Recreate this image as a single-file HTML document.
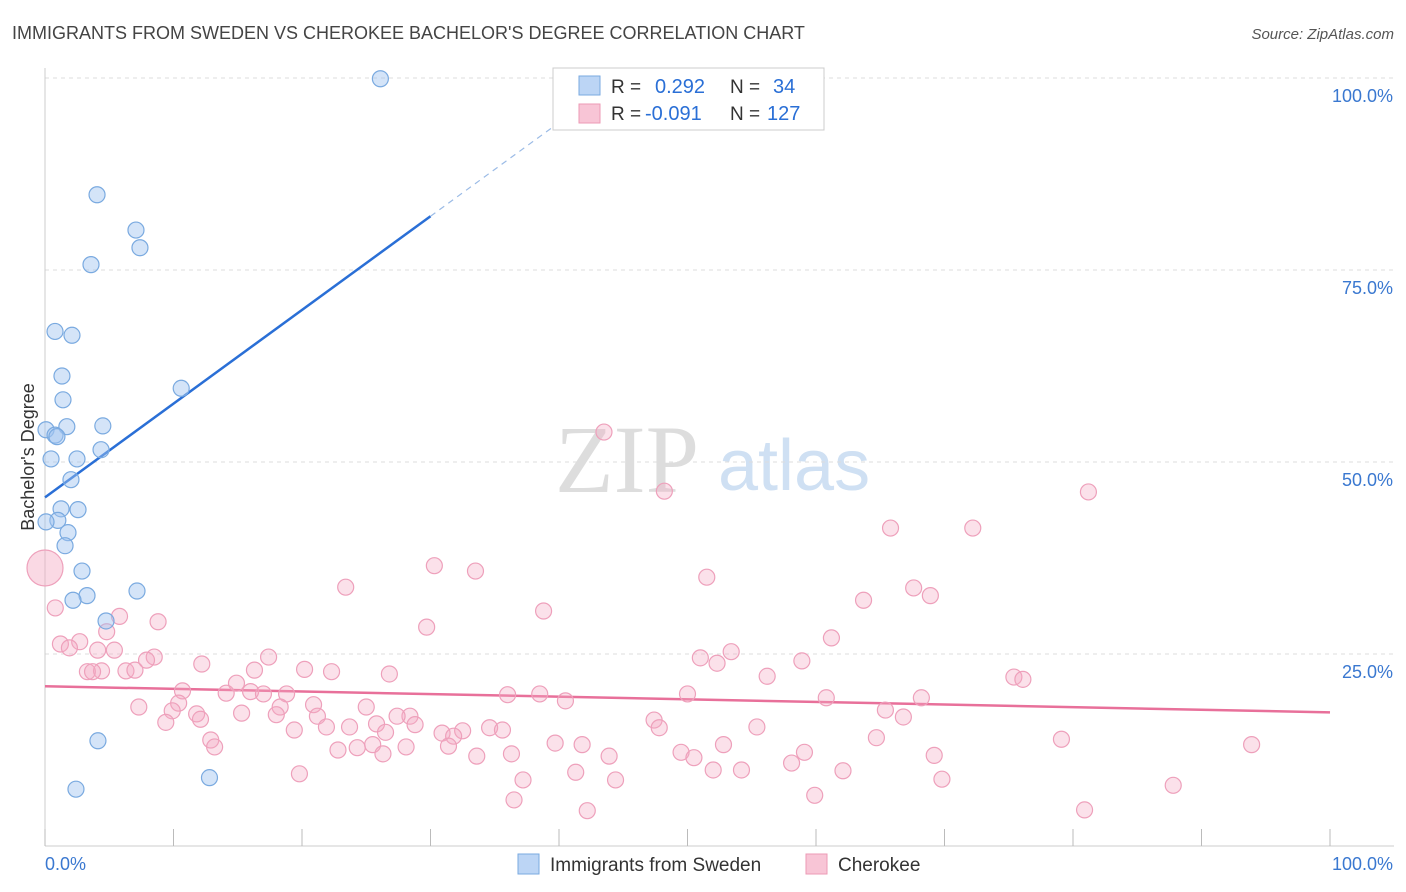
<!DOCTYPE html>
<html><head><meta charset="utf-8"><style>
body{margin:0;background:#fff;font-family:"Liberation Sans",sans-serif}
svg{display:block}
</style></head><body>
<svg id="chart" width="1406" height="892" xmlns="http://www.w3.org/2000/svg" font-family="Liberation Sans, sans-serif">
<text x="12" y="39" font-size="18" fill="#444">IMMIGRANTS FROM SWEDEN VS CHEROKEE BACHELOR'S DEGREE CORRELATION CHART</text>
<text x="1394" y="39" font-size="15" fill="#555" font-style="italic" text-anchor="end">Source: ZipAtlas.com</text>
<g>
<text x="555" y="492" font-size="96" fill="#ddd" font-family="Liberation Serif, serif">ZIP</text>
<text x="718" y="490" font-size="72" fill="#cfe0f3">atlas</text>
</g>
<g id="grid"></g>
<g id="axes"></g>
<text transform="translate(34,457) rotate(-90)" font-size="18" fill="#333" text-anchor="middle">Bachelor's Degree</text>
<g id="lines"></g>
<g id="pts"></g>
<g>
<rect x="553" y="68" width="271" height="62" fill="#fff" stroke="#ccc"/>
<rect x="579" y="76" width="21" height="19" fill="#bcd5f5" stroke="#7aaae0"/>
<rect x="579" y="104" width="21" height="19" fill="#f8c5d6" stroke="#ec9ab5"/>
<text x="611" y="93" font-size="19" fill="#333">R =</text>
<text x="655" y="93" font-size="20" fill="#2a6fd6">0.292</text>
<text x="730" y="93" font-size="19" fill="#333">N =</text>
<text x="773" y="93" font-size="20" fill="#2a6fd6">34</text>
<text x="611" y="120" font-size="19" fill="#333">R =</text>
<text x="645" y="120" font-size="20" fill="#2a6fd6">-0.091</text>
<text x="730" y="120" font-size="19" fill="#333">N =</text>
<text x="767" y="120" font-size="20" fill="#2a6fd6">127</text>
</g>
<g>
<rect x="518" y="854" width="21" height="20" fill="#bcd5f5" stroke="#7aaae0"/>
<text x="550" y="871" font-size="19" fill="#333">Immigrants from Sweden</text>
<rect x="806" y="854" width="21" height="20" fill="#f8c5d6" stroke="#ec9ab5"/>
<text x="838" y="871" font-size="19" fill="#333">Cherokee</text>
</g>
</svg>
<script>
const yTicks=[25,50,75,100];
const yTickLabels=["25.0%","50.0%","75.0%","100.0%"];
const xTickVals=[0,10,20,30,40,50,60,70,80,90,100];
const swedenX=[26.1,4.05,7.08,7.39,3.58,0.78,2.1,1.32,10.6,1.4,4.5,1.7,0.08,0.78,0.93,4.36,0.47,2.49,2.02,1.25,2.57,1.0,0.08,1.79,1.56,2.88,7.16,3.27,2.18,4.75,4.12,12.8,2.41];
const swedenY=[99.9,84.8,80.2,77.9,75.7,67.0,66.5,61.2,59.6,58.1,54.7,54.6,54.2,53.5,53.3,51.6,50.4,50.4,47.7,43.9,43.8,42.4,42.2,40.8,39.1,35.8,33.2,32.6,32.0,29.3,13.7,8.9,7.4];
const cheroX=[43.5,48.2,81.2,65.8,72.2,30.3,33.5,51.5,23.4,67.6,68.9,63.7,38.8,0.8,5.8,8.8,29.7,4.8,61.2,1.2,2.7,1.9,4.1,5.4,17.4,8.5,7.9,51.0,53.4,52.3,58.9,12.2,20.2,22.3,3.3,4.4,3.7,6.3,7.0,16.3,26.8,56.2,75.4,76.1,14.9,10.7,14.1,16.0,17.0,18.8,36.0,38.5,50.0,60.8,68.2,40.5,10.4,7.3,20.9,25.0,18.3,65.4,15.3,9.9,11.8,66.8,28.4,27.4,18.0,21.2,47.4,9.4,12.1,25.8,23.7,28.8,47.8,55.4,34.6,35.6,19.4,21.9,32.5,30.9,26.5,31.8,64.7,12.9,13.2,52.8,41.8,39.7,31.4,24.3,22.8,28.1,25.5,36.3,33.6,49.5,59.1,43.9,50.5,69.2,26.3,79.1,93.9,58.1,41.3,52.0,54.2,62.1,19.8,37.2,44.4,69.8,87.8,59.9,36.5,42.2,80.9];
const cheroY=[53.9,46.2,46.1,41.4,41.4,36.5,35.8,35.0,33.7,33.6,32.6,32.0,30.6,31.0,29.9,29.2,28.5,27.9,27.1,26.3,26.6,25.8,25.5,25.5,24.6,24.6,24.2,24.5,25.3,23.8,24.1,23.7,23.0,22.7,22.7,22.8,22.7,22.8,22.9,22.9,22.4,22.1,22.0,21.7,21.2,20.2,19.9,20.1,19.8,19.8,19.7,19.8,19.8,19.3,19.3,18.9,18.6,18.1,18.4,18.1,18.1,17.7,17.3,17.6,17.2,16.8,16.9,16.9,17.1,16.9,16.4,16.1,16.5,15.9,15.5,15.8,15.4,15.5,15.4,15.1,15.1,15.5,15.0,14.7,14.8,14.3,14.1,13.8,12.9,13.2,13.2,13.4,13.0,12.8,12.5,12.9,13.2,12.0,11.7,12.2,12.2,11.7,11.5,11.8,12.0,13.9,13.2,10.8,9.6,9.9,9.9,9.8,9.4,8.6,8.6,8.7,7.9,6.6,6.0,4.6,4.7];
const bigX=[0], bigY=[36.2];
const swedenFit=[45.4,1.22]; // intercept, slope (% per %)
const cheroFit=[20.8,17.4]; // y at x=0, y at x=100
const NS="http://www.w3.org/2000/svg";
const X=v=>45+v*12.85, Y=v=>846-v*7.68;
function mk(tag,attrs,parent){const e=document.createElementNS(NS,tag);for(const k in attrs)e.setAttribute(k,attrs[k]);parent.appendChild(e);return e;}
const grid=document.getElementById('grid'),axes=document.getElementById('axes'),lines=document.getElementById('lines'),pts=document.getElementById('pts');
yTicks.forEach((t,i)=>{
 const l=mk('line',{x1:45,x2:1394,y1:Y(t),y2:Y(t),stroke:'#ddd','stroke-dasharray':'4,4'},grid);
 
 
 const tx=mk('text',{x:1393,y:Y(t)+24,'font-size':18,fill:'#3a78d0','text-anchor':'end'},axes);
 tx.textContent=yTickLabels[i];
 
 
});
mk('line',{x1:45,x2:45,y1:68,y2:846,stroke:'#ccc'},axes);
mk('line',{x1:45,x2:1394,y1:846,y2:846,stroke:'#ccc'},axes);
xTickVals.forEach(v=>{
 const t=mk('line',{x1:X(v),x2:X(v),y1:829,y2:846,stroke:'#bbb'},axes);
 
 
});
const xl0=mk('text',{x:45,y:870,'font-size':18,fill:'#3a78d0'},axes);xl0.textContent='0.0%';


const xl1=mk('text',{x:1393,y:870,'font-size':18,fill:'#3a78d0','text-anchor':'end'},axes);xl1.textContent='100.0%';


// trend lines
const sf=x=>swedenFit[0]+swedenFit[1]*x;
const ls=mk('line',{x1:X(0),y1:Y(sf(0)),x2:X(30),y2:Y(sf(30)),stroke:'#2a6fd6','stroke-width':2.5},lines);


const ld=mk('line',{x1:X(30),y1:Y(sf(30)),x2:X(40),y2:Y(sf(40)),stroke:'#9bbbe6','stroke-width':1.2,'stroke-dasharray':'6,5'},lines);


const lc=mk('line',{x1:X(0),y1:Y(cheroFit[0]),x2:X(100),y2:Y(cheroFit[1]),stroke:'#e8709a','stroke-width':2.5},lines);


cheroX.forEach((x,i)=>{
 const c=mk('circle',{cx:X(x),cy:Y(cheroY[i]),r:8,fill:'rgba(244,170,195,0.35)',stroke:'#eea0bb','stroke-width':1.2},pts);
 
 
});
bigX.forEach((x,i)=>{
 const c=mk('circle',{cx:X(x),cy:Y(bigY[i]),r:18,fill:'rgba(244,170,195,0.45)',stroke:'#eea0bb','stroke-width':1.2},pts);
 
 
});
swedenX.forEach((x,i)=>{
 const c=mk('circle',{cx:X(x),cy:Y(swedenY[i]),r:8,fill:'rgba(160,196,240,0.45)',stroke:'#7aaae0','stroke-width':1.2},pts);
 
 
});
</script>
</body></html>
